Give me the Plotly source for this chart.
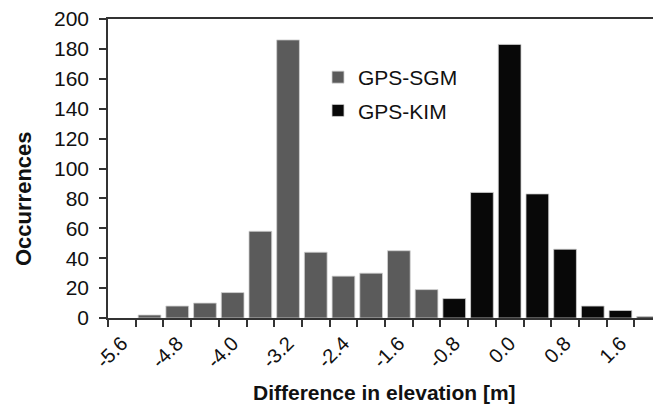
import plotly.graph_objects as go

categories = ["-5.6", "-5.2", "-4.8", "-4.4", "-4.0", "-3.6", "-3.2", "-2.8", "-2.4", "-2.0",
              "-1.6", "-1.2", "-0.8", "-0.4", "0.0", "0.4", "0.8", "1.2", "1.6", "2.0"]
gps_sgm = [None, 2, 8, 10, 17, 58, 186, 44, 28, 30, 45, 19, None, None, None, None, None, None, None, None]
gps_kim = [None, None, None, None, None, None, None, None, None, None, None, None, 13, 84, 183, 83, 46, 8, 5, 1]
tick_labels = categories[::2]

idx = list(range(len(categories)))

fig = go.Figure()
fig.add_trace(go.Bar(x=idx, y=gps_sgm, name="GPS-SGM", width=0.82,
                     marker=dict(color="#5b5b5b", line=dict(color="#d0d0d0", width=0.8)),
                     legendgroup="a"))
fig.add_trace(go.Bar(x=idx, y=gps_kim, name="GPS-KIM", width=0.82,
                     marker=dict(color="#080808", line=dict(color="#d0d0d0", width=0.8)),
                     legendgroup="b"))

W, H = 653, 408
L, R, T, B = 108, 0, 19, 90
pw = W - L - R
ph = H - T - B
cat_px = 27.7

fig.update_layout(
    width=W, height=H,
    margin=dict(l=L, r=R, t=T, b=B, pad=0),
    paper_bgcolor="white", plot_bgcolor="white",
    barmode="overlay",
    font=dict(family="Liberation Sans, Arial, sans-serif", color="#111111"),
    showlegend=True,
    legend=dict(x=(318 - L) / pw, y=(T + ph - 57) / ph, xanchor="left", yanchor="top",
                font=dict(size=21, color="#111111"), bgcolor="rgba(0,0,0,0)",
                tracegroupgap=3, itemclick=False),
)
fig.update_xaxes(
    range=[-0.5, -0.5 + pw / cat_px],
    tickmode="array", tickvals=idx[::2], ticktext=tick_labels,
    tickangle=-45, ticks="", ticklen=0, tickfont=dict(size=20, color="#111111"),
    ticklabelstandoff=4,
    showline=True, linecolor="#333333", linewidth=1.6, mirror=True,
    showgrid=False, zeroline=False,
    minor=dict(tickmode="linear", tick0=-0.5, dtick=1, ticks="outside", ticklen=7,
               tickwidth=1.5, tickcolor="#333333", showgrid=False),
)
fig.update_yaxes(
    range=[0, 200], dtick=20, ticks="outside", ticklen=7, tickwidth=1.5, tickcolor="#333333",
    tickfont=dict(size=21, color="#111111"), ticklabelstandoff=6,
    showline=True, linecolor="#333333", linewidth=1.6,
    showgrid=False, zeroline=False,
)

fig.add_annotation(text="<b>Occurrences</b>", xref="paper", yref="paper",
                   x=(23 - L) / pw, y=(T + ph - 199) / ph, textangle=-90,
                   showarrow=False, font=dict(size=22, color="#111111"),
                   xanchor="center", yanchor="middle")
fig.add_annotation(text="<b>Difference in elevation [m]</b>", xref="paper", yref="paper",
                   x=(384 - L) / pw, y=(T + ph - 392) / ph,
                   showarrow=False, font=dict(size=21, color="#111111"),
                   xanchor="center", yanchor="middle")

fig.write_html("out.html")
